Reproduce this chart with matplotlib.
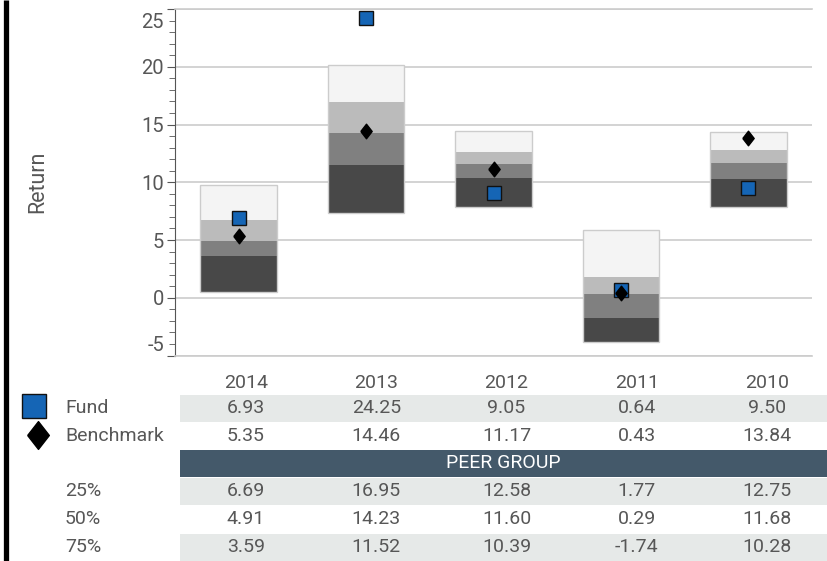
import matplotlib.pyplot as plt
from matplotlib.patches import Rectangle
from matplotlib.transforms import ScaledTranslation

plt.rcParams['font.family'] = ['Roboto', 'DejaVu Sans']
plt.rcParams['axes.unicode_minus'] = False

# chart data
years = ['2014', '2013', '2012', '2011', '2010']
fund = [6.93, 24.25, 9.05, 0.64, 9.50]
benchmark = [5.35, 14.46, 11.17, 0.43, 13.84]
p05 = [9.75, 20.13, 14.42, 5.86, 14.36]     # top of the box (not in table)
p25 = [6.69, 16.95, 12.58, 1.77, 12.75]
p50 = [4.91, 14.23, 11.60, 0.29, 11.68]
p75 = [3.59, 11.52, 10.39, -1.74, 10.28]
p95 = [0.52, 7.30, 7.82, -3.86, 7.87]       # bottom of the box (not in table)
peer_labels = ['25%', '50%', '75%']

W, H = 827, 561
TXT = '#575757'
fig = plt.figure(figsize=(W / 100, H / 100), dpi=100)

# ---- box chart
ax = fig.add_axes([175 / W, 1 - 355.5 / H, (812 - 175) / W, (355.5 - 9) / H])
x = list(range(len(years)))
layers = [(p05, p25, '#f4f4f4'), (p25, p50, '#bbbbbb'),
          (p50, p75, '#808080'), (p75, p95, '#484848')]
for top, bot, col in layers:
    ax.bar(x, [t - b for t, b in zip(top, bot)], bottom=bot, width=0.6,
           color=col, linewidth=0, zorder=2)
ax.bar(x, [t - b for t, b in zip(p05, p95)], bottom=p95, width=0.6,
       fill=False, edgecolor='#cccccc', linewidth=1, zorder=3)

ax.plot(x, fund, linestyle='none', marker='s', markersize=10.5,
        markerfacecolor='#1565b5', markeredgecolor='#111111', markeredgewidth=1, zorder=5)
diamond = [(-0.39, 0), (0, 0.5), (0.39, 0), (0, -0.5), (-0.39, 0)]
ax.plot(x, benchmark, linestyle='none', marker=diamond, markersize=10.5,
        color='black', zorder=6)

ax.set_xlim(-0.5, len(years) - 0.5)
ax.set_ylim(-5, 25)
ax.set_yticks(range(-5, 26, 5))
ax.set_yticks(range(-5, 26, 1), minor=True)
ax.set_xticks([])
ax.yaxis.grid(True, color='#cccccc', linewidth=1.2, zorder=0)
ax.set_axisbelow(True)
ax.spines['right'].set_visible(False)
for s in ['top', 'bottom']:
    ax.spines[s].set_color('#cccccc')
    ax.spines[s].set_linewidth(1.2)
ax.spines['left'].set_color('#555555')
ax.tick_params(axis='y', which='major', length=6, color='#555555',
               labelsize=14.5, labelcolor=TXT, pad=2)
ax.tick_params(axis='y', which='minor', length=4, color='#555555')
ax.set_ylabel('Return', fontsize=15.5, color=TXT)
ax.yaxis.set_label_coords((48 - 175) / (812 - 175), 0.5)

fig.canvas.draw()
labels = ax.get_yticklabels()
labels[-1].set_transform(labels[-1].get_transform() + ScaledTranslation(0, -0.12, fig.dpi_scale_trans))
labels[0].set_transform(labels[0].get_transform() + ScaledTranslation(0, 0.12, fig.dpi_scale_trans))

# ---- table below, drawn in pixel coordinates
tab = fig.add_axes([0, 0, 1, 1], zorder=-1)
tab.set_xlim(0, W)
tab.set_ylim(H, 0)
tab.axis('off')

col_x = [246 + 130.25 * i for i in range(len(years))]
label_x = 65
shade = '#e6e9e8'
fs = 14

for cx, yr in zip(col_x, years):
    tab.text(cx, 383, yr, ha='center', va='center', fontsize=fs, color=TXT)

rows = [('Fund', fund, 408, True), ('Benchmark', benchmark, 436, False),
        (peer_labels[0], p25, 491, True), (peer_labels[1], p50, 519, False),
        (peer_labels[2], p75, 547, True)]
for name, vals, yc, shaded in rows:
    if shaded:
        tab.add_patch(Rectangle((180, yc - 13.5), W - 180, 27, color=shade, linewidth=0))
    tab.text(label_x, yc, name, ha='left', va='center', fontsize=fs, color=TXT)
    for cx, v in zip(col_x, vals):
        tab.text(cx, yc, f'{v:.2f}', ha='center', va='center', fontsize=fs, color=TXT)

tab.add_patch(Rectangle((180, 449.5), W - 180, 27.5, color='#44596a', linewidth=0))
tab.text((180 + W) / 2, 463, 'PEER GROUP', ha='center', va='center', fontsize=fs, color='white')

# legend symbols next to the row labels
tab.plot([34], [406], marker='s', markersize=17, markerfacecolor='#1565b5',
         markeredgecolor='#111111', markeredgewidth=1)
tab.plot([38], [435], marker=diamond, markersize=20, color='black')

# black frame edge on the left
tab.plot([5.5, 5.5], [0, H], color='black', linewidth=3.8, solid_capstyle='butt')

fig.savefig('out.png', dpi=100)
